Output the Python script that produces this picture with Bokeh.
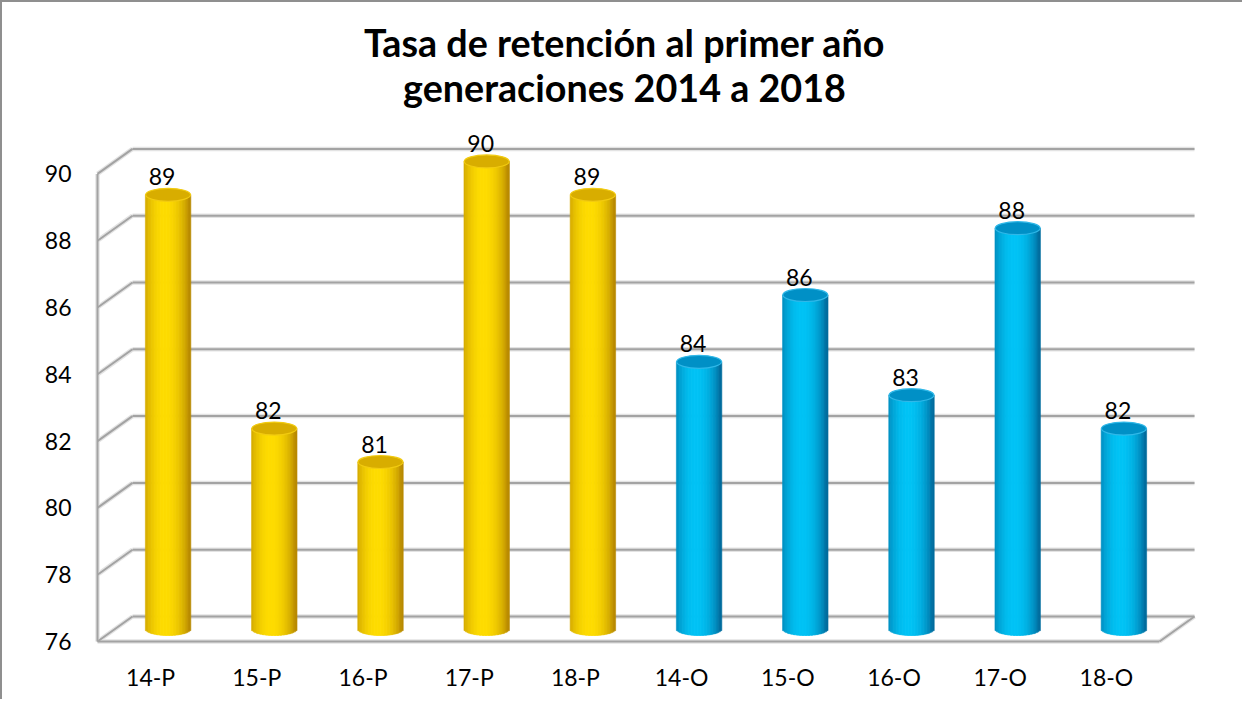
import numpy as np
from bokeh.plotting import figure
from bokeh.models import Range1d, FixedTicker, ColumnDataSource
from bokeh.embed import file_html
from bokeh.resources import INLINE
from bokeh.core.properties import value

# ---- data ----
categories = ["14-P", "15-P", "16-P", "17-P", "18-P", "14-O", "15-O", "16-O", "17-O", "18-O"]
retention = [89, 82, 81, 90, 89, 84, 86, 83, 88, 82]
series = ["P", "P", "P", "P", "P", "O", "O", "O", "O", "O"]
y_ticks = [76, 78, 80, 82, 84, 86, 88, 90]
title_lines = ["Tasa de retención al primer año", "generaciones 2014 a 2018"]

# ---- layout constants (pixels) ----
W, H = 1242, 699
PXX, PXY = 106.2, 33.4          # px per category / per value unit
OX, OY = 95, 639                # canvas px of front-left floor corner
BASE = 76
DX, DY = 35 / PXX, 25 / PXY     # depth offset in data units
PAD = 3
F_LEFT, F_BOTTOM, F_RIGHT, F_TOP = OX - PAD, OY + PAD, 1196, 0

x_range = Range1d(-PAD / PXX, (F_RIGHT - OX) / PXX)
y_range = Range1d(BASE - PAD / PXY, BASE + (OY - F_TOP) / PXY)

p = figure(width=W, height=H, x_range=x_range, y_range=y_range,
           output_backend="svg", toolbar_location=None,
           min_border_left=F_LEFT, min_border_right=W - F_RIGHT,
           min_border_top=F_TOP, min_border_bottom=H - F_BOTTOM,
           outline_line_color=None, background_fill_color="white",
           border_fill_color="white")
p.styles = {"border-left": "2px solid #8f8f8f", "border-top": "2px solid #8f8f8f"}
p.xgrid.visible = False
p.ygrid.visible = False

FONT = "Lato"

# ---- axes ----
p.yaxis.ticker = FixedTicker(ticks=y_ticks)
p.xaxis.ticker = FixedTicker(ticks=[i + 0.5 for i in range(len(categories))])
p.xaxis.major_label_overrides = {i + 0.5: c for i, c in enumerate(categories)}
for ax in (p.xaxis, p.yaxis):
    ax.axis_line_color = None
    ax.major_tick_line_color = None
    ax.minor_tick_line_color = None
    ax.major_tick_out = 0
    ax.major_tick_in = 0
    ax.minor_tick_out = 0
    ax.major_label_text_font = FONT
    ax.major_label_text_font_size = "23px"
    ax.major_label_text_color = "#000000"
p.yaxis.major_label_standoff = 23
p.xaxis.major_label_standoff = 18

# ---- walls ----
n = len(categories)
xs, ys = [], []
for t in y_ticks:
    xs.append([DX, n + DX]); ys.append([t + DY, t + DY])      # back wall
    xs.append([0, DX]); ys.append([t, t + DY])                # left wall diagonal
xs.append([0, 0]); ys.append([BASE, y_ticks[-1]])             # left front edge
xs.append([0, n]); ys.append([BASE, BASE])                    # floor front edge
xs.append([n, n + DX]); ys.append([BASE, BASE + DY])          # floor right edge
p.multi_line(xs, ys, line_color="#e3e3e3", line_width=4.5)
p.multi_line(xs, ys, line_color="#a3a3a3", line_width=2)

# ---- cylinders ----
BW = 45 / PXX
EH = 13 / PXY
NS = 30
pal = {"P": ((185, 138, 0), (255, 221, 0), "#D8AD00", "#F2CB10"),
       "O": ((0, 108, 158), (0, 196, 246), "#0090C6", "#30B8E8")}

sx, sw, stop, sbot, scol = [], [], [], [], []
tx, ty, tfill, tline = [], [], [], []
for i, (v, s) in enumerate(zip(retention, series)):
    cx = i + 0.5 + DX / 2
    dark, bright, topc, rim = pal[s]
    for k in range(NS):
        u = -1 + (2 * k + 1) / NS
        tt = max(0.0, np.cos((u + 0.12) * np.pi / 2 * 0.95)) ** 0.7
        c = tuple(int(d + (b - d) * tt) for d, b in zip(dark, bright))
        sx.append(cx + u * BW / 2)
        sw.append(BW / NS * 1.3)
        stop.append(v + DY / 2)
        sbot.append(BASE + DY / 2 - EH / 2 * np.sqrt(max(0.0, 1 - u * u)))
        scol.append("#%02x%02x%02x" % c)
    tx.append(cx); ty.append(v + DY / 2); tfill.append(topc); tline.append(rim)

strips = ColumnDataSource(dict(x=sx, w=sw, top=stop, bottom=sbot, c=scol))
p.vbar(x="x", width="w", top="top", bottom="bottom", fill_color="c",
       line_color="c", line_width=0.6, source=strips)
tops = ColumnDataSource(dict(x=tx, y=ty, f=tfill, l=tline,
                             ly=[t + EH / 2 for t in ty],
                             txt=[str(v) for v in retention]))
p.ellipse(x="x", y="y", width=BW, height=EH, fill_color="f", line_color="l",
          line_width=1.2, source=tops)

# ---- data labels ----
p.text(x="x", y="ly", text="txt", source=tops, text_align="center",
       text_baseline="bottom", x_offset=-6, y_offset=-3,
       text_font=value(FONT), text_font_size="23px", text_color="#000000")

# ---- title: two centred lines (canvas centre x 622, line centres y 40 / 85) ----
TITLE_CX, TITLE_CY = 622, [40, 85]
title_src = ColumnDataSource(dict(
    x=[(TITLE_CX - OX) / PXX] * len(title_lines),
    y=[BASE + (OY - cy) / PXY for cy in TITLE_CY],
    t=title_lines))
p.text(x="x", y="y", text="t", source=title_src, text_align="center",
       text_baseline="middle", text_font=value(FONT), text_font_size="37.7px",
       text_font_style="bold", text_color="#000000")

open("out.html", "w").write(file_html(p, INLINE))
